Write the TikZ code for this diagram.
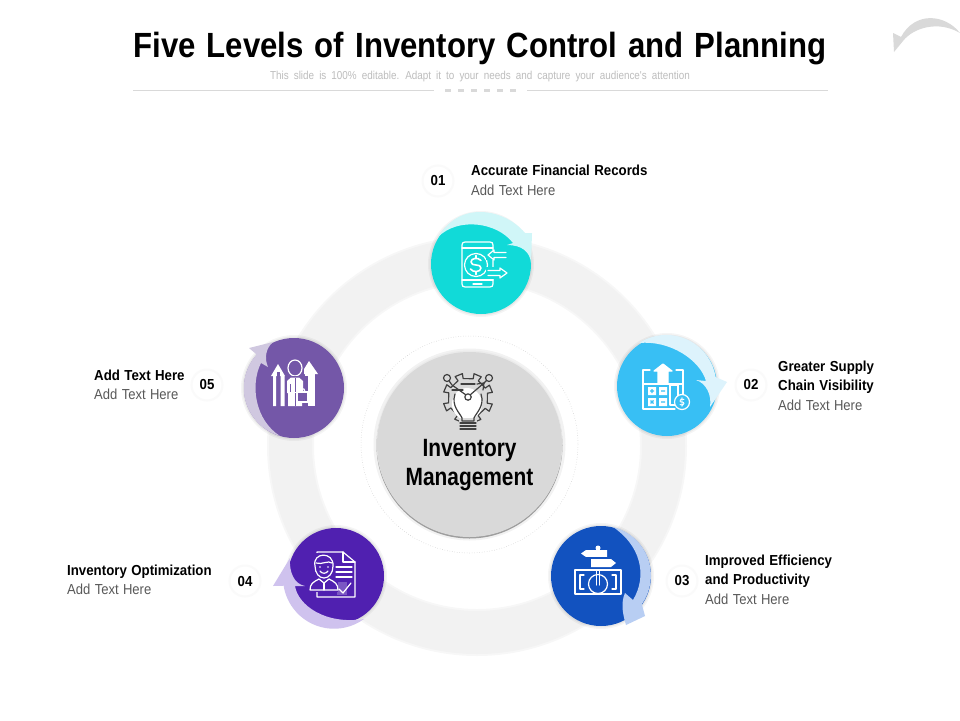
\documentclass[tikz,border=0pt]{standalone}
\usepackage{fontspec}
\setmainfont{Liberation Sans}
\newfontfamily\titlefont[FakeStretch=0.89,WordSpace=1.28]{Liberation Sans}
\newfontfamily\centrefont[FakeStretch=0.835,WordSpace=1.2]{Liberation Sans}
\newfontfamily\labelfont[FakeStretch=0.915,WordSpace=1.2]{Liberation Sans}
\newfontfamily\plainfont[FakeStretch=0.90,WordSpace=1.2]{Liberation Sans}
\newfontfamily\subfont[FakeStretch=0.86,WordSpace=1.85]{Liberation Sans}
\definecolor{ringc}{HTML}{F2F2F2}
\definecolor{greyt}{HTML}{595959}
\definecolor{subt}{HTML}{BDBDBD}
\definecolor{rulec}{HTML}{D9D9D9}
\definecolor{cA}{HTML}{11DAD8}\definecolor{lA}{HTML}{D0F6F8}
\definecolor{cB}{HTML}{38BFF4}\definecolor{lB}{HTML}{DDF3FC}
\definecolor{cC}{HTML}{1252BF}\definecolor{lC}{HTML}{B8CEF3}
\definecolor{cD}{HTML}{5020B0}\definecolor{lD}{HTML}{CFC2EE}
\definecolor{cE}{HTML}{7457A8}\definecolor{lE}{HTML}{D0C8E0}
\definecolor{icond}{HTML}{404040}
\tikzset{
  headtext/.style={anchor=west,font=\labelfont\bfseries\fontsize{14.5}{19}\selectfont,text=black,align=left,inner sep=0pt},
  addtext/.style={anchor=west,font=\plainfont\fontsize{14.5}{19}\selectfont,text=greyt,inner sep=0pt},
  numtext/.style={circle,fill=white,draw=black!2,line width=2pt,minimum size=31pt,inner sep=0pt,font=\labelfont\bfseries\fontsize{14.5}{17}\selectfont},
  iconw/.style={draw=white,line width=1.2pt,line join=round,line cap=round},
  icong/.style={draw=icond,line width=1.2pt,line join=round,line cap=round},
}
\newcommand{\halo}[3]{%
  \fill[black,opacity=0.04] (#1,#2) circle[radius=#3+3];
  \fill[black,opacity=0.05] (#1,#2) circle[radius=#3+1.5];
}
\begin{document}
\begin{tikzpicture}[x=1pt,y=-1pt]
\useasboundingbox (0,0) rectangle (960,720);
\fill[white] (0,0) rectangle (960,720);
% title
\node[font=\titlefont\bfseries\fontsize{35}{40}\selectfont,inner sep=0pt] (title) at (480,49) {Five Levels of Inventory Control and Planning};
\node[font=\subfont\fontsize{11.5}{14}\selectfont,text=subt,inner sep=0pt] (subtitle) at (480,76.5) {This slide is 100\% editable. Adapt it to your needs and capture your audience's attention};
\coordinate (ruleAa) at (133,90.5); \coordinate (ruleAb) at (434,90.5);
\coordinate (ruleBa) at (527,90.5); \coordinate (ruleBb) at (828,90.5);
\draw[rulec,line width=0.8pt] (ruleAa) -- (ruleAb);
\draw[rulec,line width=0.8pt] (ruleBa) -- (ruleBb);
\foreach \x in {445,458,471,484,497,510}
  \fill[rulec] (\x,88.5) rectangle (\x+6,92);
% back arrow
\fill[rulec] (893,33) -- (894,52) -- (903,41) .. controls (913,28) and (938,20) .. (960,33)
  .. controls (945,14) and (915,11) .. (901,37) -- cycle;
% ring
\fill[black,opacity=0.03,even odd rule] (477,446) circle[radius=210] (477,446) circle[radius=163];
\fill[ringc,even odd rule] (477,446) circle[radius=208] (477,446) circle[radius=165];
% centre
\draw[black!22,line width=0.5pt,dotted] (469.5,444.5) circle[radius=108.5];
\fill[black,opacity=0.05] (469.5,444.5) circle[radius=96];
\fill[black!38] (469.5,445.5) circle[radius=93];
\fill[white!92!black] (469.5,443.5) circle[radius=93];
\fill[rulec] (469.5,444.5) circle[radius=92.5];
\node[font=\centrefont\bfseries\fontsize{25}{29}\selectfont,align=center,inner sep=0pt] (centre) at (469.5,465) {Inventory\\Management};
% centre icon
\begin{scope}[shift={(468,398)}]
  \foreach \a in {-112,-67,-22,23,68,113,158,203}{
    \draw[icong] (\a-8:20) -- (\a-9:25) -- (\a+9:25) -- (\a+8:20) -- (\a+37:20);
  }
  \fill[white] (-1,6) ellipse[x radius=15,y radius=16];
  \fill[rulec] (-9,20) rectangle (9,32);
  \draw[icong] (-13,-4) .. controls (-17,8) and (-8,15) .. (-6,20) -- (-6,23) -- (6,23) -- (6,20) .. controls (8,15) and (17,8) .. (13,-4);
  \draw[icong] (-7,-14) -- (7,-14);
  \draw[icong] (-8,25) -- (8,25) (-8,28) -- (8,28) (-8,31) -- (8,31);
  \draw[icong,fill=white] (0,-1) circle[radius=3.2];
  \draw[icong] (-2,-3) -- (-16,-13) -- (-21,-20);
  \draw[icong] (2,-3) -- (16,-15) -- (21,-20);
  \draw[icong] (9,-14) -- (16,-15) -- (15,-8);
  \draw[icong] (-16,-8) -- (-5,-8);
  \draw[icong,fill=rulec] (-21,-20) circle[radius=3.5] (21,-20) circle[radius=3.5];
\end{scope}
% disc 01
\halo{481}{264}{50}
\fill[cA] (481,264) circle[radius=50];
\fill[lA] (438,237) .. controls (448,221) and (462,212) .. (480,212) .. controls (497,212) and (514,220) .. (525,233) -- (532,233) -- (531,263) .. controls (530,252) and (522,245) .. (507,245) -- (513,243) .. controls (497,222) and (458,217) .. (438,237) -- cycle;
% disc 02
\halo{667}{386}{50}
\fill[cB] (667,386) circle[radius=50];
\fill[lB] (639,343) arc[start angle=237,end angle=351,radius=50] -- (727,382) -- (710,407) .. controls (712,395) and (706,383) .. (696,380) -- (706,381) .. controls (700,360) and (670,340) .. (639,343) -- cycle;
% disc 03
\halo{601}{576}{50}
\fill[cC] (601,576) circle[radius=50];
\fill[lC] (613,527) arc[start angle=284,end angle=395,radius=50] -- (645,616) -- (626,625) .. controls (622,612) and (621,602) .. (625,593) -- (633,600) .. controls (648,575) and (640,545) .. (613,527) -- cycle;
% disc 04
\halo{336}{576}{48}
\fill[cD] (336,576) circle[radius=48];
\fill[lD] (364,619) arc[start angle=54,end angle=171,radius=51] -- (273,586) -- (290,558) .. controls (289,572) and (294,584) .. (305,586) -- (295,586) .. controls (298,605) and (325,625) .. (364,619) -- cycle;
% disc 05
\halo{294}{388}{50}
\fill[cE] (294,388) circle[radius=50];
\fill[lE] (280,436) arc[start angle=106,end angle=222,radius=50] -- (249,348) -- (273,342) .. controls (266,348) and (264,358) .. (268,367) -- (261,363) .. controls (250,385) and (255,420) .. (280,436) -- cycle;
% icon 01
\draw[iconw] (465,242) -- (490,242) .. controls (492,242) and (493,243) .. (493,245) -- (493,284) .. controls (493,286) and (492,287) .. (490,287) -- (465,287) .. controls (463,287) and (462,286) .. (462,284) -- (462,245) .. controls (462,243) and (463,242) .. (465,242) -- cycle;
\draw[iconw] (462,248) -- (493,248) (462,280) -- (493,280) (473,284) -- (482,284);
\draw[iconw,fill=cA] (476,265) circle[radius=11.5];
\draw[iconw,line width=1.6pt] (481,260.5) .. controls (478,257) and (471,258) .. (471,262) .. controls (471,267) and (481,263) .. (481,268) .. controls (481,272) and (473,273) .. (470.5,269);
\draw[iconw] (476,255.5) -- (476,258) (476,272) -- (476,274.5);
\fill[cA] (486,250) rectangle (510,260);
\draw[iconw] (506,252.5) -- (494,252.5) -- (494,250) -- (488,255) -- (494,260) -- (494,257.5) -- (506,257.5);
\fill[cA] (486,267) rectangle (510,279);
\draw[iconw] (488,270.5) -- (500,270.5) -- (500,268) -- (507,273) -- (500,278) -- (500,275.5) -- (488,275.5);
% icon 02
\draw[iconw] (643,378) -- (643,409) -- (675,409);
\draw[iconw] (683,378) -- (683,396);
\draw[iconw] (643,378) -- (643,370) -- (650,370) (683,378) -- (683,370) -- (676,370);
\draw[iconw] (643,384) -- (683,384);
\fill[white] (648,387) rectangle (656,395) (659,387) rectangle (667,395) (648,398) rectangle (656,406) (659,398) rectangle (667,406);
\draw[iconw] (670,385) rectangle (678,405);
\draw[cB,line width=1.2pt] (650,391) -- (654,391) (652,389) -- (652,393) (661,391) -- (665,391) (650.5,400.5) -- (653.5,403.5) (650.5,403.5) -- (653.5,400.5) (661,402) -- (665,402);
\draw[iconw,fill=white] (654,371) -- (663,364) -- (672,371) -- (668,371) -- (668,384) -- (658,384) -- (658,371) -- cycle;
\draw[iconw,fill=cB] (682,402) circle[radius=7.5];
\draw[iconw,line width=0.9pt] (684,399.5) .. controls (682,398) and (680,399) .. (680,401) .. controls (680,403) and (684,401) .. (684,403.5) .. controls (684,405.5) and (681,406) .. (680,404.5) (682,397.5) -- (682,406.5);
% icon 03
\draw[iconw] (575,570) rectangle (621,594);
\draw[iconw] (584,575) -- (580,575) -- (580,589) -- (584,589) (612,575) -- (616,575) -- (616,589) -- (612,589);
\draw[iconw] (598,584) circle[radius=9.5];
\draw[iconw] (596.5,570) -- (596.5,585) (599.5,570) -- (599.5,585);
\fill[white] (581,553.5) -- (586,550) -- (607,550) -- (607,557) -- (586,557) -- cycle;
\fill[white] (591,559) -- (611,559) -- (616,563) -- (611,567) -- (591,567) -- cycle;
\fill[white] (598,548) circle[radius=2.5];
\draw[cC,line width=0.7pt] (581,557.5) -- (607,557.5);
% icon 04
\draw[iconw] (317,557) -- (317,552) -- (343,552) -- (355,562) -- (355,597) -- (317,597) -- (317,590);
\draw[iconw] (343,552) -- (343,562) -- (355,562);
\draw[iconw] (336,567) -- (352,567) (336,572) -- (352,572) (336,577) -- (352,577);
\fill[white,opacity=0.25] (337,582) rectangle (347,595);
\draw[iconw] (339,589) -- (343,593) -- (351,583);
\fill[cD] (306,553) rectangle (317,592);
\fill[cD] (308,578) rectangle (338,592);
\fill[cD] (317,553) rectangle (334,578);
\draw[iconw] (315,566) .. controls (312,552) and (334,551) .. (333,566) .. controls (333,573) and (329,578) .. (324,578) .. controls (319,578) and (315,573) .. (315,566) -- cycle;
\draw[iconw] (316,563) .. controls (322,565) and (328,560) .. (332,563);
\draw[iconw] (320,571) .. controls (322,574) and (326,574) .. (328,571);
\fill[white] (320,567) circle[radius=0.9] (328,567) circle[radius=0.9];
\draw[iconw] (310,590) .. controls (310,584) and (313,582) .. (319,579) -- (324,583) -- (329,579) .. controls (335,582) and (338,584) .. (338,590) -- cycle;
\draw[iconw] (324,583) -- (324,590);
% icon 05
\fill[white] (273,406) rectangle (276,376) (280.5,406) rectangle (284.5,376);
\fill[white] (278,364) -- (271,376) -- (285,376) -- cycle;
\fill[cE] (276.7,372) -- (279.5,372) -- (279.5,406) -- (276.7,406) -- cycle;
\fill[white] (305,406) rectangle (314.5,373);
\fill[white] (309,361) -- (301,374) -- (318,374) -- cycle;
\fill[cE] (287,360) rectangle (304,376);
\draw[iconw] (295,368) ellipse[x radius=7,y radius=8];
\fill[cE] (285,376) rectangle (308,407);
\fill[white] (287,381) -- (291,377.5) -- (299,377.5) -- (303,381) -- (303,393) -- (302,393) -- (302,406) -- (288,406) -- (288,393) -- (287,393) -- cycle;
\draw[cE,line width=1pt] (295,378) -- (295,392) (295,393) -- (295,406) (290,384) -- (290,392);
\draw[white,line width=1.2pt,fill=cE] (297,392) rectangle (308,402);
\draw[iconw] (300,392) -- (301,389) -- (304,389) -- (305,392);
% number badges
\node[numtext] (n1) at (438,181) {01};
\node[numtext] (n2) at (751,385) {02};
\node[numtext] (n3) at (682,581) {03};
\node[numtext] (n4) at (245,581) {04};
\node[numtext] (n5) at (207,385) {05};
% labels
\node[headtext] (h1) at (471,170) {Accurate Financial Records};
\node[addtext] (a1) at (471,190) {Add Text Here};
\node[headtext] (h2) at (778,377) {Greater Supply\\Chain Visibility};
\node[addtext] (a2) at (778,405) {Add Text Here};
\node[headtext] (h3) at (705,571) {Improved Efficiency\\and Productivity};
\node[addtext] (a3) at (705,599) {Add Text Here};
\node[headtext] (h4) at (67,572) {Inventory Optimization};
\node[addtext] (a4) at (67,589) {Add Text Here};
\node[headtext] (h5) at (94,375) {Add Text Here};
\node[addtext] (a5) at (94,394) {Add Text Here};
\end{tikzpicture}
\end{document}
